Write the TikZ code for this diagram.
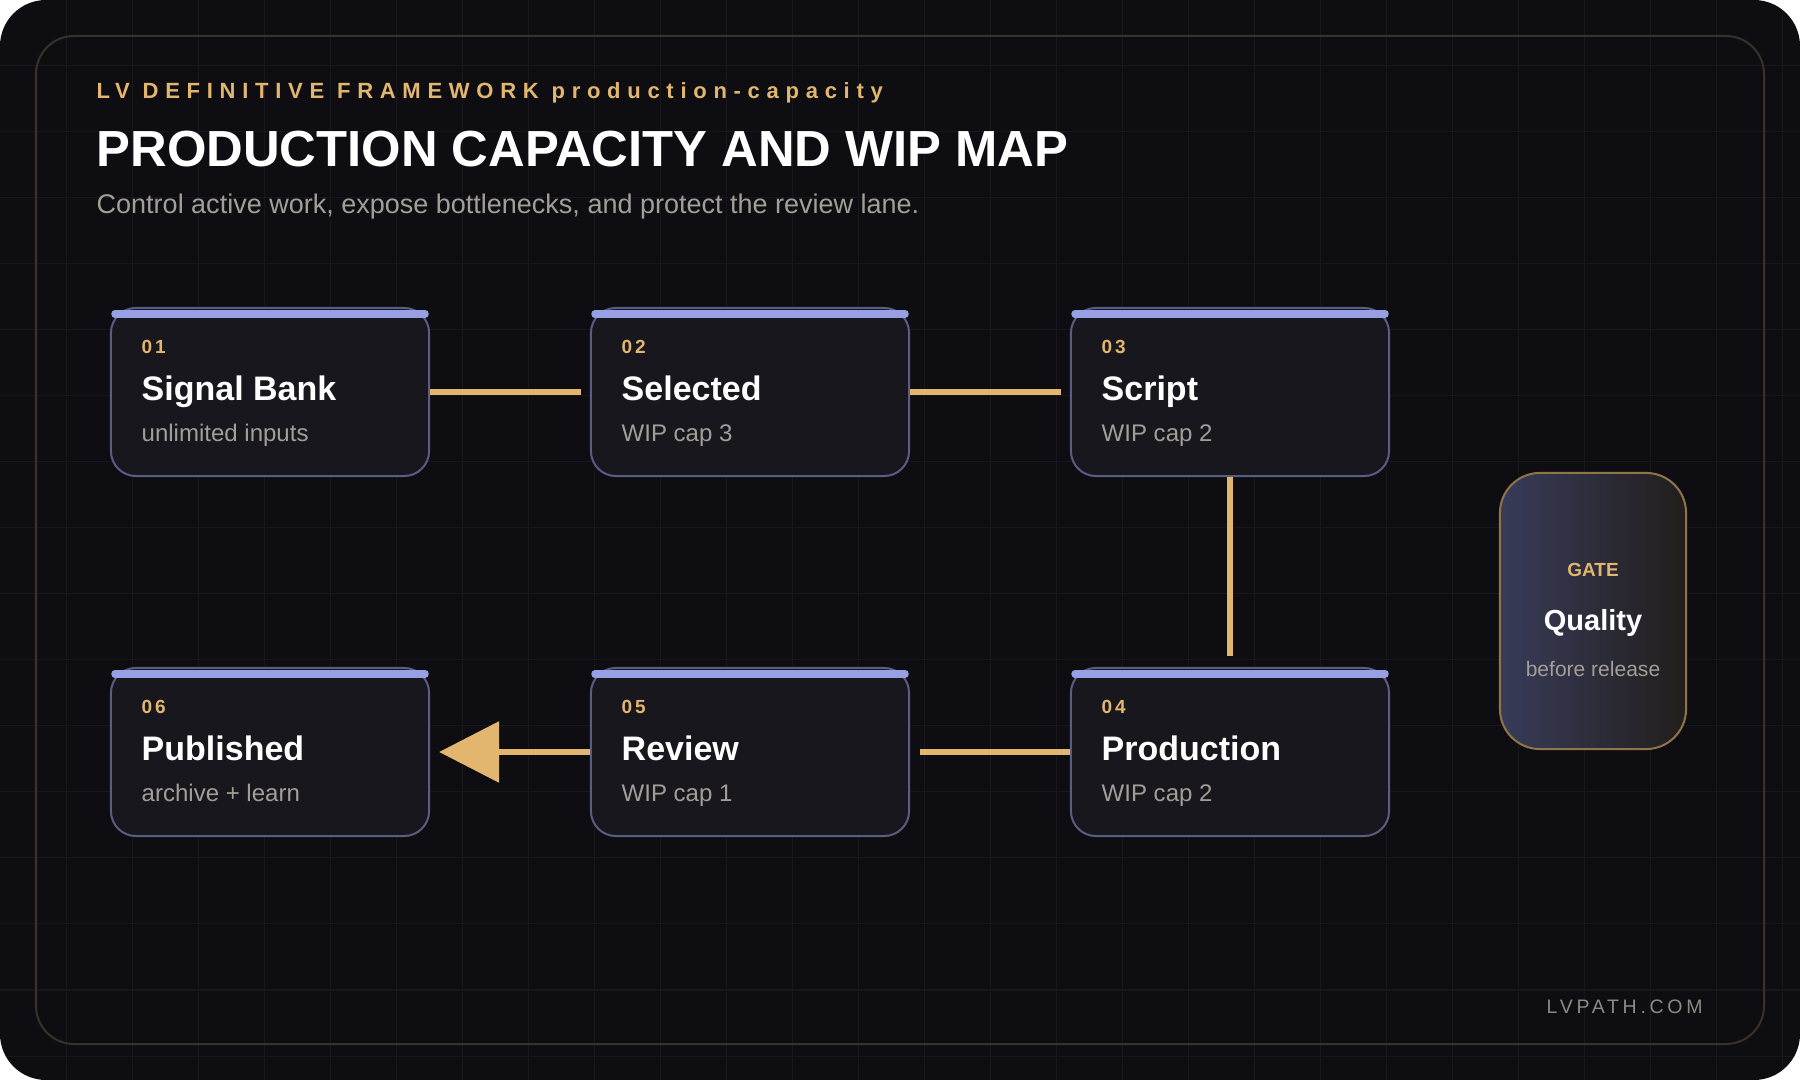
\documentclass[tikz,border=0pt]{standalone}
\usepackage{fontspec}
\setmainfont{Liberation Sans}
\usetikzlibrary{arrows.meta}
\definecolor{bgdark}{HTML}{0E0E12}
\definecolor{gridc}{HTML}{17171C}
\definecolor{framec}{HTML}{3A3128}
\definecolor{cardfill}{HTML}{18171D}
\definecolor{cardline}{HTML}{5A5C84}
\definecolor{barc}{HTML}{97A0E4}
\definecolor{goldc}{HTML}{E2B66F}
\definecolor{mutedc}{HTML}{A39E98}
\definecolor{footc}{HTML}{8D8983}
\definecolor{gatel}{HTML}{383C59}
\definecolor{gater}{HTML}{221E1C}
\definecolor{gateline}{HTML}{8F7549}
\begin{document}
\begin{tikzpicture}[x=0.01cm,y=-0.01cm,line join=round,
		card/.style={draw=cardline,fill=cardfill,line width=0.2mm,rounded corners=2.5mm,minimum width=3.18cm,minimum height=1.68cm,inner sep=0pt},
		topbar/.style={barc,line width=0.75mm,line cap=round},
		flow/.style={goldc,line width=0.6mm},
		numtxt/.style={anchor=base west,inner sep=0pt,text=goldc,font=\fontsize{5.4pt}{6pt}\selectfont\bfseries\addfontfeature{LetterSpace=15}},
		nametxt/.style={anchor=base west,inner sep=0pt,text=white,font=\fontsize{9.67pt}{11pt}\selectfont\bfseries},
		subtxt/.style={anchor=base west,inner sep=0pt,text=mutedc,font=\fontsize{6.83pt}{8pt}\selectfont},
		gate/.style={draw=gateline,line width=0.2mm,left color=gatel,right color=gater,rounded corners=4mm,minimum width=1.86cm,minimum height=2.76cm}]
	\useasboundingbox (0,0) rectangle (1800,1080);
	\fill[white] (0,0) rectangle (1800,1080);
	\fill[bgdark,rounded corners=4.6mm] (0,0) rectangle (1800,1080);
	\begin{scope}
		\clip[rounded corners=4.6mm] (0,0) rectangle (1800,1080);
		\foreach \k in {1,...,27} \draw[gridc,line width=0.1mm] (\k*66,0) -- (\k*66,1080);
		\foreach \k in {1,...,16} \draw[gridc,line width=0.1mm] (0,\k*66) -- (1800,\k*66);
	\end{scope}
	\draw[framec,line width=0.2mm,rounded corners=3.8mm] (36,36) rectangle (1764,1044);
	% header
	\node[anchor=base west,inner sep=0pt,text=goldc,font=\fontsize{6.26pt}{7pt}\selectfont\bfseries\addfontfeature{LetterSpace=30.5}] (kicker) at (96,99) {LV DEFINITIVE FRAMEWORK production-capacity};
	\node[anchor=base west,inner sep=0pt,text=white,font=\fontsize{14.43pt}{16pt}\selectfont\bfseries] (title) at (96,167) {PRODUCTION CAPACITY AND WIP MAP};
	\node[anchor=base west,inner sep=0pt,text=mutedc,font=\fontsize{7.68pt}{9pt}\selectfont] (subtitle) at (96,214) {Control active work, expose bottlenecks, and protect the review lane.};
	% stages
	\foreach \i/\x/\y/\name/\sub in {1/270/392/Signal Bank/unlimited inputs,2/750/392/Selected/WIP cap 3,3/1230/392/Script/WIP cap 2,4/1230/752/Production/WIP cap 2,5/750/752/Review/WIP cap 1,6/270/752/Published/archive + learn}{
		\node[card] (card\i) at (\x,\y) {};
		\draw[topbar] (\x-155,\y-78) -- (\x+155,\y-78);
		\node[numtxt] (num\i) at (\x-129,\y-38) {0\i};
		\node[nametxt] (name\i) at (\x-129,\y+9) {\name};
		\node[subtxt] (sub\i) at (\x-129,\y+50) {\sub};
	}
	\draw[flow,shorten >=0.9mm] (card1) -- (card2);
	\draw[flow,shorten >=0.9mm] (card2) -- (card3);
	\draw[flow,shorten >=1.1mm] (card3) -- (card4);
	\draw[flow,shorten >=1mm] (card4) -- (card5);
	\draw[flow,shorten >=0.9mm,-{Triangle[length=6mm,width=6mm]}] (card5) -- (card6);
	% gate
	\node[gate] (gate) at (1593,611) {};
	\node[anchor=base,inner sep=0pt,text=goldc,font=\fontsize{5.4pt}{6pt}\selectfont\bfseries] (gatelbl) at (1593,577) {GATE};
	\node[anchor=base,inner sep=0pt,text=white,font=\fontsize{8.25pt}{9pt}\selectfont\bfseries] (gatename) at (1593,631) {Quality};
	\node[anchor=base,inner sep=0pt,text=mutedc,font=\fontsize{5.98pt}{7pt}\selectfont] (gatesub) at (1593,677) {before release};
	\node[anchor=base west,inner sep=0pt,text=footc,font=\fontsize{5.55pt}{6pt}\selectfont\addfontfeature{LetterSpace=19}] (footer) at (1546,1013) {LVPATH.COM};
\end{tikzpicture}
\end{document}
